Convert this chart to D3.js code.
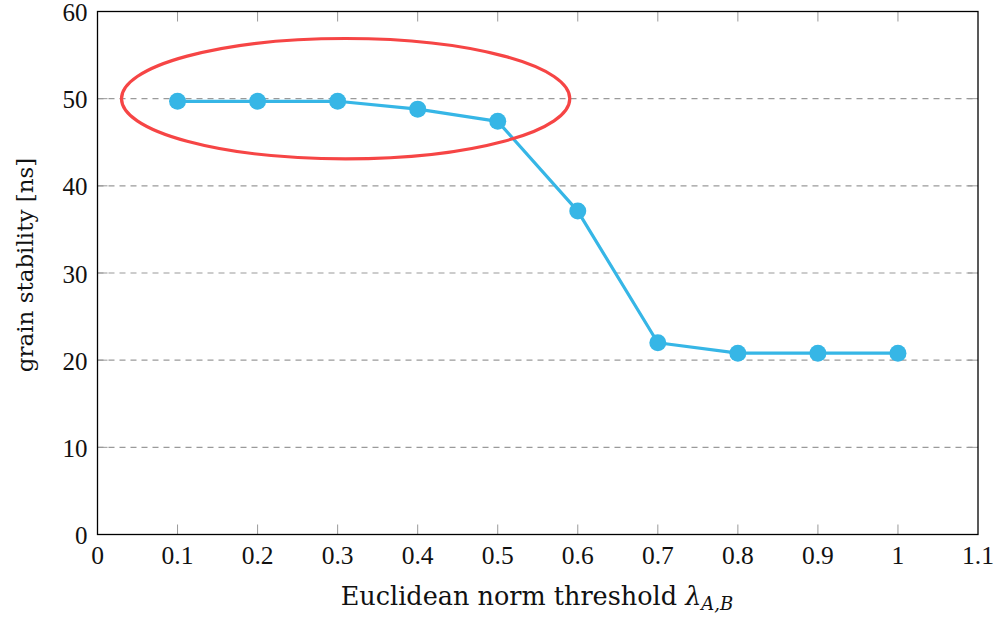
<!DOCTYPE html>
<html>
<head>
<meta charset="utf-8">
<script src="https://cdn.jsdelivr.net/npm/d3@7"></script>
<style>
  html, body { margin: 0; padding: 0; background: #fff; }
  svg { display: block; }
  text { font-family: "Liberation Serif", "DejaVu Serif", serif; fill: #111; }
  .title { font-family: "DejaVu Serif", "Liberation Serif", serif; }
</style>
</head>
<body>
<script>
// Threshold sweep: grain stability vs. Euclidean norm threshold
const thresholds = [0.1, 0.2, 0.3, 0.4, 0.5, 0.6, 0.7, 0.8, 0.9, 1.0];
const stability  = [49.7, 49.7, 49.7, 48.8, 47.4, 37.1, 22.0, 20.8, 20.8, 20.8];
const xTicks = [0, 0.1, 0.2, 0.3, 0.4, 0.5, 0.6, 0.7, 0.8, 0.9, 1, 1.1];
const yTicks = [0, 10, 20, 30, 40, 50, 60];
const gridLevels = [10, 20, 30, 40, 50];
// highlighted plateau region (centre and half-extents in data units)
const highlight = { cx: 0.31, cy: 50, rx: 0.28, ry: 6.9 };

const W = 998, H = 617;
const margin = { left: 97.5, right: 20, top: 11.5, bottom: 82.5 };

const svg = d3.select("body").append("svg").attr("width", W).attr("height", H);

const x = d3.scaleLinear().domain([0, 1.1]).range([margin.left, W - margin.right]);
const y = d3.scaleLinear().domain([0, 60]).range([H - margin.bottom, margin.top]);

// dashed horizontal grid
svg.append("g").selectAll("line").data(gridLevels).join("line")
  .attr("x1", x(0)).attr("x2", x(1.1))
  .attr("y1", d => y(d)).attr("y2", d => y(d))
  .attr("stroke", "#9a9a9a").attr("stroke-width", 1.1)
  .attr("stroke-dasharray", "6,5");

// inward ticks on all four sides
const tickLen = 10;
const tk = svg.append("g").attr("stroke", "#999").attr("stroke-width", 1);
tk.selectAll(".xb").data(xTicks.slice(1, -1)).join("line")
  .attr("x1", d => x(d)).attr("x2", d => x(d))
  .attr("y1", y(0)).attr("y2", y(0) - tickLen);
tk.selectAll(".xt").data(xTicks.slice(1, -1)).join("line")
  .attr("x1", d => x(d)).attr("x2", d => x(d))
  .attr("y1", y(60)).attr("y2", y(60) + tickLen);
tk.selectAll(".yl").data(yTicks.slice(1, -1)).join("line")
  .attr("y1", d => y(d)).attr("y2", d => y(d))
  .attr("x1", x(0)).attr("x2", x(0) + tickLen);
tk.selectAll(".yr").data(yTicks.slice(1, -1)).join("line")
  .attr("y1", d => y(d)).attr("y2", d => y(d))
  .attr("x1", x(1.1)).attr("x2", x(1.1) - tickLen);

// frame
svg.append("rect")
  .attr("x", x(0)).attr("y", y(60))
  .attr("width", x(1.1) - x(0)).attr("height", y(0) - y(60))
  .attr("fill", "none").attr("stroke", "#000").attr("stroke-width", 1.3);

// tick labels
svg.append("g").selectAll("text").data(xTicks).join("text")
  .attr("x", d => x(d)).attr("y", y(0) + 29)
  .attr("text-anchor", "middle").attr("font-size", 25.5)
  .text(d => d3.format("~g")(d));
svg.append("g").selectAll("text").data(yTicks).join("text")
  .attr("x", x(0) - 10).attr("y", d => y(d) + 9.5)
  .attr("text-anchor", "end").attr("font-size", 25)
  .text(d => d);

// series line and markers
const line = d3.line().x((d, i) => x(thresholds[i])).y(d => y(d));
svg.append("path").datum(stability)
  .attr("d", line).attr("fill", "none")
  .attr("stroke", "#36b6e6").attr("stroke-width", 3.2)
  .attr("stroke-linejoin", "round");
svg.append("g").selectAll("circle").data(stability).join("circle")
  .attr("cx", (d, i) => x(thresholds[i])).attr("cy", d => y(d))
  .attr("r", 8.5).attr("fill", "#36b6e6");

// highlight ellipse
svg.append("ellipse")
  .attr("cx", x(highlight.cx)).attr("cy", y(highlight.cy))
  .attr("rx", x(highlight.rx) - x(0)).attr("ry", y(0) - y(highlight.ry))
  .attr("fill", "none").attr("stroke", "#f64545").attr("stroke-width", 3.2);

// axis titles
const xl = svg.append("text").attr("class", "title")
  .attr("x", 537).attr("y", 605)
  .attr("text-anchor", "middle").attr("font-size", 25.5);
xl.append("tspan").text("Euclidean norm threshold ");
xl.append("tspan").attr("font-style", "italic").text("λ");
xl.append("tspan").attr("font-style", "italic").attr("font-size", 18).attr("dy", 5).text("A,B");

svg.append("text").attr("class", "title")
  .attr("transform", "translate(33,265) rotate(-90)")
  .attr("text-anchor", "middle").attr("font-size", 23)
  .text("grain stability [ns]");
</script>
</body>
</html>
